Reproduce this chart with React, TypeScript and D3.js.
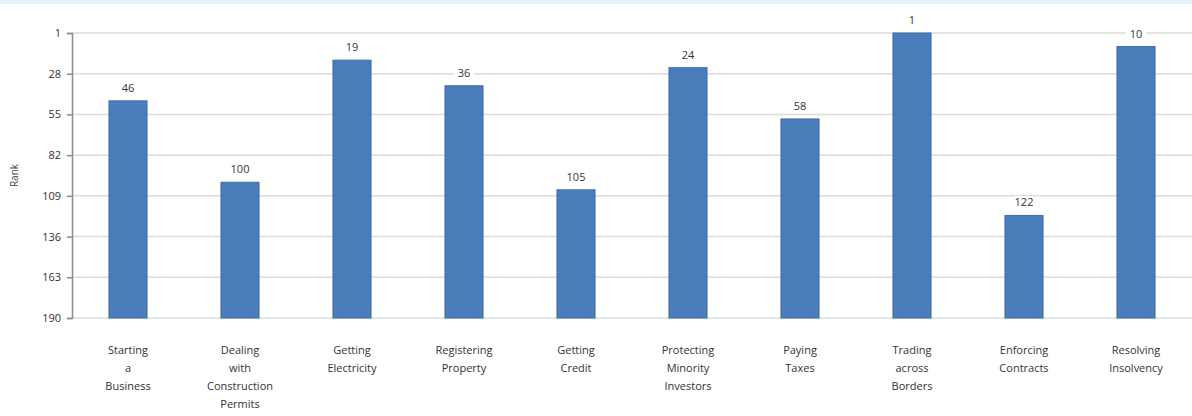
import React, { useEffect, useRef } from 'react';
import * as d3 from 'd3';

const categories = [
  ['Starting', 'a', 'Business'],
  ['Dealing', 'with', 'Construction', 'Permits'],
  ['Getting', 'Electricity'],
  ['Registering', 'Property'],
  ['Getting', 'Credit'],
  ['Protecting', 'Minority', 'Investors'],
  ['Paying', 'Taxes'],
  ['Trading', 'across', 'Borders'],
  ['Enforcing', 'Contracts'],
  ['Resolving', 'Insolvency'],
];
const ranks = [46, 100, 19, 36, 105, 24, 58, 1, 122, 10];
const yTicks = [1, 28, 55, 82, 109, 136, 163, 190];

const width = 1192,
  height = 416;
const margin = { top: 33, right: 0, bottom: 98, left: 72 };
const font = "'Open Sans', 'DejaVu Sans', sans-serif";

export default function App() {
  const ref = useRef<SVGSVGElement>(null);

  useEffect(() => {
    const svg = d3.select(ref.current);
    svg.selectAll('*').remove();

    svg
      .append('rect')
      .attr('x', 0)
      .attr('y', 0)
      .attr('width', width)
      .attr('height', 4)
      .attr('fill', '#e9f2fb');

    const keys = categories.map((c, i) => String(i));

    const x = d3
      .scaleBand()
      .domain(keys)
      .range([margin.left, width - margin.right])
      .paddingInner(0.66)
      .paddingOuter(0.33);

    const y = d3
      .scaleLinear()
      .domain([1, 190])
      .range([margin.top, height - margin.bottom]);

    // gridlines
    svg
      .append('g')
      .selectAll('line')
      .data(yTicks)
      .enter()
      .append('line')
      .attr('x1', margin.left)
      .attr('x2', width)
      .attr('y1', d => y(d))
      .attr('y2', d => y(d))
      .attr('stroke', '#dcdcdc')
      .attr('stroke-width', 1.5);

    // y axis
    const yAxis = svg
      .append('g')
      .attr('transform', `translate(${margin.left},0)`)
      .call(d3.axisLeft(y).tickValues(yTicks).tickSize(5).tickPadding(6));
    yAxis.select('.domain').attr('stroke', '#8c8c8c').attr('stroke-width', 1.5);
    yAxis.selectAll('.tick line').attr('stroke', '#8c8c8c').attr('stroke-width', 1.5);
    yAxis
      .selectAll('.tick text')
      .attr('fill', '#333')
      .style('font-family', font)
      .style('font-size', '11px');

    svg
      .append('text')
      .attr('transform', `translate(18,${(margin.top + height - margin.bottom) / 2}) rotate(-90)`)
      .attr('text-anchor', 'middle')
      .attr('fill', '#444')
      .style('font-family', font)
      .style('font-size', '10px')
      .text('Rank');

    // bars
    const bottom = y(190);
    svg
      .append('g')
      .selectAll('rect')
      .data(ranks)
      .enter()
      .append('rect')
      .attr('x', (d, i) => x(String(i)))
      .attr('y', d => y(d))
      .attr('width', x.bandwidth())
      .attr('height', d => bottom - y(d))
      .attr('fill', '#4a7ebb')
      .attr('stroke', '#3d6ca5')
      .attr('stroke-width', 1);

    // value labels
    const lbl = svg.append('g');
    ranks.forEach((d, i) => {
      const cx = x(String(i)) + x.bandwidth() / 2;
      lbl
        .append('rect')
        .attr('x', cx - 10)
        .attr('y', y(d) - 19)
        .attr('width', 20)
        .attr('height', 12)
        .attr('fill', '#fff');
      lbl
        .append('text')
        .attr('x', cx)
        .attr('y', y(d) - 9)
        .attr('text-anchor', 'middle')
        .attr('fill', '#333')
        .style('font-family', font)
        .style('font-size', '11px')
        .text(d);
    });

    // category labels
    const cat = svg.append('g');
    categories.forEach((lines, i) => {
      const cx = x(String(i)) + x.bandwidth() / 2;
      const t = cat
        .append('text')
        .attr('text-anchor', 'middle')
        .attr('fill', '#333')
        .style('font-family', font)
        .style('font-size', '11px');
      lines.forEach((s, j) => {
        t.append('tspan')
          .attr('x', cx)
          .attr('y', 354 + j * 18)
          .text(s);
      });
    });
  }, []);

  return (
    <svg
      ref={ref}
      width={width}
      height={height}
      style={{ position: 'absolute', left: 0, top: 0, background: '#fff' }}
    />
  );
}
